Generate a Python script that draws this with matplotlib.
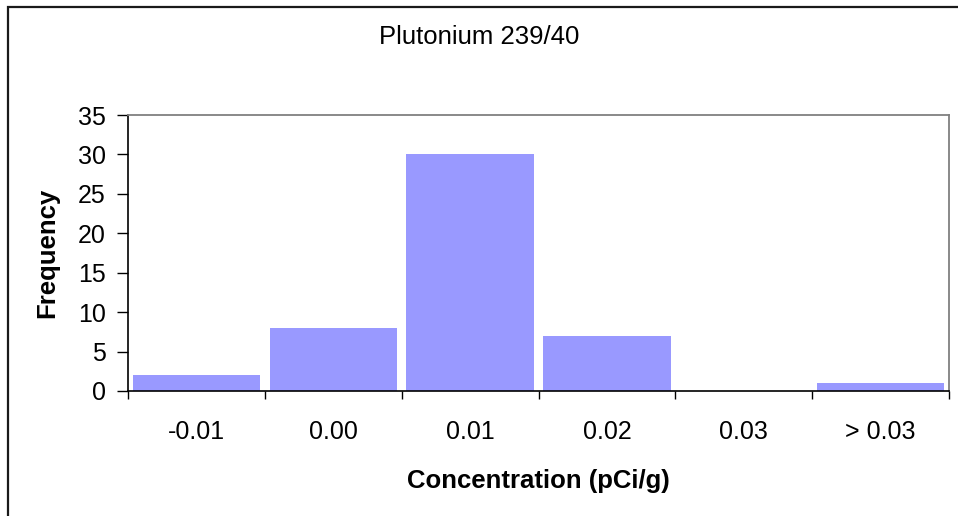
import numpy as np
import matplotlib
matplotlib.use("Agg")
import matplotlib.pyplot as plt
from matplotlib.patches import Rectangle

# === DATA ===
categories = ["-0.01", "0.00", "0.01", "0.02", "0.03", "> 0.03"]
frequency = [2, 8, 30, 7, 0, 1]
y_ticks = [0, 5, 10, 15, 20, 25, 30, 35]

BAR_COLOR = "#9999FF"
plt.rcParams["font.family"] = ["Liberation Sans", "DejaVu Sans"]

fig = plt.figure(figsize=(9.58, 5.16), dpi=100)
fig.patch.set_facecolor("white")

# outer chart border (left and top visible, rest cut off)
fig.patches.append(Rectangle((8 / 958, -0.5), 2.0, 1.5 - 7 / 516,
                             transform=fig.transFigure, fill=False,
                             edgecolor="#1a1a1a", linewidth=1.6, zorder=0))

ax = fig.add_axes([128 / 958, 1 - 391 / 516, (949 - 128) / 958, (391 - 115) / 516])

x = np.arange(len(categories))
ax.bar(x, frequency, width=0.93, color=BAR_COLOR, edgecolor="none", zorder=2)

ax.set_xlim(-0.5, len(categories) - 0.5)
ax.set_ylim(0, 35)

# ticks at category boundaries, labels at centres
ax.set_xticks(np.arange(len(categories) + 1) - 0.5)
ax.set_xticklabels([])
ax.set_xticks(x, minor=True)
ax.set_xticklabels(categories, minor=True, fontsize=18)
ax.tick_params(axis="x", which="major", direction="out", length=6, width=1, color="black")
ax.tick_params(axis="x", which="minor", length=0, pad=21)

ax.set_yticks(y_ticks)
ax.set_yticklabels([str(v) for v in y_ticks], fontsize=18)
ax.tick_params(axis="y", direction="out", length=8, width=1, color="black", pad=8)

for side in ["top", "right"]:
    ax.spines[side].set_color("#808080")
    ax.spines[side].set_linewidth(1.3)
for side in ["left", "bottom"]:
    ax.spines[side].set_color("black")
    ax.spines[side].set_linewidth(1.2)

ax.set_xlabel("Concentration (pCi/g)", fontsize=18.5, fontweight="bold", labelpad=18)
ax.set_ylabel("Frequency", fontsize=18.5, fontweight="bold", labelpad=13)

fig.text(0.5, 1 - 37 / 516, "Plutonium 239/40", ha="center", va="center", fontsize=18.5)

fig.savefig("out.png", dpi=100)
